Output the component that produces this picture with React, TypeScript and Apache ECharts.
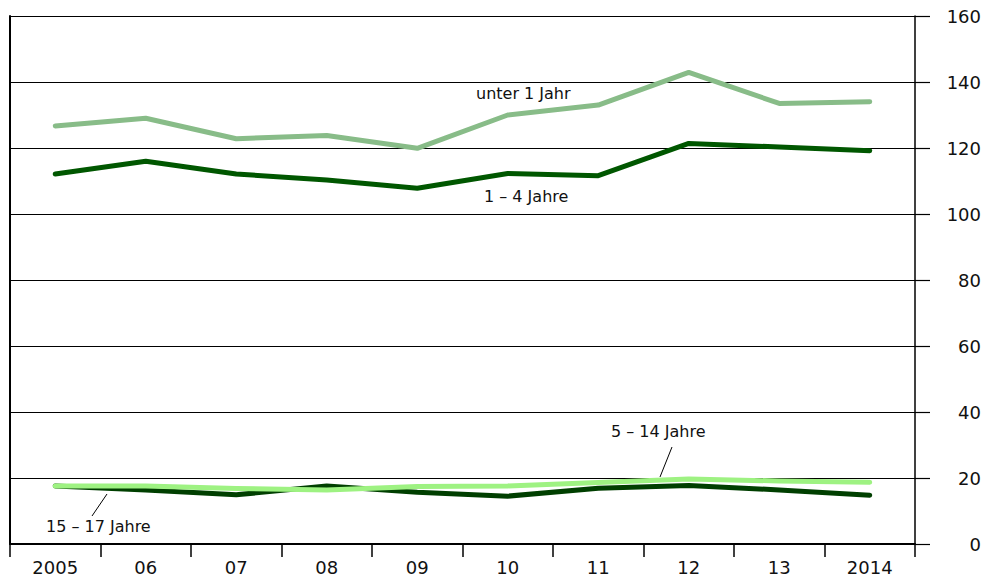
import React, { useEffect, useRef } from "react";
import * as echarts from "echarts";

const categories = ["2005", "06", "07", "08", "09", "10", "11", "12", "13", "2014"];
const unter1 = [126.7, 129, 122.8, 123.8, 119.9, 130, 133, 142.9, 133.5, 134];
const j1bis4 = [112.1, 116, 112.1, 110.3, 107.8, 112.3, 111.6, 121.4, 120.3, 119.2];
const j5bis14 = [17.6, 17.6, 16.8, 16.4, 17.4, 17.6, 18.6, 19.7, 19.1, 18.7];
const j15bis17 = [17.6, 16.4, 14.9, 17.6, 15.7, 14.5, 16.9, 17.7, 16.4, 14.8];
const yTicks = { min: 0, max: 160, interval: 20 };

const FONT = "DejaVu Sans";

export default function App() {
  const ref = useRef<HTMLDivElement>(null);
  useEffect(() => {
    if (!ref.current) return;
    const chart = echarts.init(ref.current, null, { renderer: "svg" });
    const line = (name: string, data: number[], color: string, z: number) => ({
      name,
      type: "line",
      data,
      symbol: "none",
      z,
      lineStyle: { color, width: 5, cap: "round", join: "round" },
    });
    chart.setOption({
      animation: false,
      grid: { left: 10, right: 69, top: 16, bottom: 37, containLabel: false },
      xAxis: {
        type: "category",
        data: categories,
        boundaryGap: true,
        axisLine: { show: true, lineStyle: { color: "#000", width: 2 } },
        axisTick: { show: true, length: 13, lineStyle: { color: "#000", width: 1.5 } },
        axisLabel: { color: "#111", fontFamily: FONT, fontSize: 18, margin: 14 },
        splitLine: { show: false },
      },
      yAxis: [
        {
          type: "value",
          position: "right",
          min: yTicks.min,
          max: yTicks.max,
          interval: yTicks.interval,
          axisLine: { show: true, lineStyle: { color: "#000", width: 1.5 } },
          axisTick: { show: true, length: 15, lineStyle: { color: "#000", width: 1.2 } },
          axisLabel: { color: "#111", fontFamily: FONT, fontSize: 18, margin: 66, align: "right" },
          splitLine: { show: true, lineStyle: { color: "#000", width: 1.2 } },
        },
        {
          type: "value",
          position: "left",
          min: yTicks.min,
          max: yTicks.max,
          interval: yTicks.interval,
          axisLine: { show: true, lineStyle: { color: "#000", width: 2 } },
          axisTick: { show: false },
          axisLabel: { show: false },
          splitLine: { show: false },
        },
      ],
      series: [
        line("unter 1 Jahr", unter1, "#88bc88", 3),
        line("1 – 4 Jahre", j1bis4, "#005700", 3),
        line("15 – 17 Jahre", j15bis17, "#003f00", 3),
        line("5 – 14 Jahre", j5bis14, "#9ef282", 4),
      ],
      graphic: [
        { type: "text", left: 476, top: 85, style: { text: "unter 1 Jahr", font: `16px "${FONT}"`, fill: "#111" } },
        { type: "text", left: 484, top: 188, style: { text: "1 – 4 Jahre", font: `16px "${FONT}"`, fill: "#111" } },
        { type: "text", left: 611, top: 423, style: { text: "5 – 14 Jahre", font: `16px "${FONT}"`, fill: "#111" } },
        { type: "line", shape: { x1: 672, y1: 447, x2: 660, y2: 477 }, style: { stroke: "#000", lineWidth: 1 } },
        { type: "text", left: 46, top: 518, style: { text: "15 – 17 Jahre", font: `16px "${FONT}"`, fill: "#111" } },
        { type: "line", shape: { x1: 107, y1: 494, x2: 92, y2: 516 }, style: { stroke: "#000", lineWidth: 1 } },
      ],
    });
    return () => chart.dispose();
  }, []);
  return <div ref={ref} style={{ width: 984, height: 581, position: "absolute", left: 0, top: 0 }} />;
}
